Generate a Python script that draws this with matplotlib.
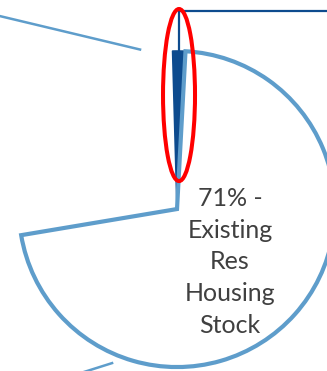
import numpy as np
import matplotlib
matplotlib.use("Agg")
import matplotlib.pyplot as plt
from matplotlib.patches import Ellipse

# ---- data ----
categories = ["New Res Construction", "Existing Res Housing Stock", "Other"]
shares = [1.3, 71.5, 27.2]
label_main = "71% -\nExisting\nRes\nHousing\nStock"

# ---- styles ----
LIGHT = "#5E9DCB"
DARK = "#0D4B8E"
RED = "#FF0000"
TEXT = "#404040"

fig = plt.figure(figsize=(3.27, 3.71), dpi=100)
ax = fig.add_axes([0, 0, 1, 1])

wedges, _ = ax.pie(shares, startangle=91.6, counterclock=False, radius=1.0,
                   center=(0, 0), frame=True)
ax.set_xlim(-1.120, 0.949)
ax.set_ylim(-1.025, 1.323)
ax.set_aspect("equal")
ax.axis("off")

dark_w, main_w, other_w = wedges
dark_w.set_facecolor(DARK)
dark_w.set_edgecolor(DARK)
dark_w.set_linewidth(1.2)
dark_w.set_joinstyle("round")
dark_w.set_zorder(2)

main_w.set_facecolor("none")
main_w.set_edgecolor(LIGHT)
main_w.set_linewidth(3.0)
main_w.set_joinstyle("miter")
main_w.set_zorder(3)

other_w.set_visible(False)

# leader line for the small slice (up from its outer mid point, then right)
mid = np.deg2rad((dark_w.theta1 + dark_w.theta2) / 2)
x0, y0 = np.cos(mid), np.sin(mid)
ax.plot([x0, x0, 1.2], [y0, 1.253, 1.253], color=DARK, lw=1.6,
        solid_joinstyle="miter", zorder=2)

# leader lines of the other labels (outside the crop)
ax.plot([-1.25, -0.234], [1.252, 1.0095], color=LIGHT, lw=1.8, zorder=2)
ax.plot([-0.62, -0.411], [-1.041, -0.975], color=LIGHT, lw=1.8, zorder=2)

# main label
ax.text(0.335, -0.335, label_main, ha="center", va="center",
        fontsize=18, family="Lato", color=TEXT, linespacing=1.46, zorder=4)

# red highlight ellipse
ax.add_patch(Ellipse((0.0127, 0.7215), 0.2025, 1.089, fill=False,
                     edgecolor=RED, lw=2.9, zorder=5))

fig.savefig("out.png", dpi=100)
